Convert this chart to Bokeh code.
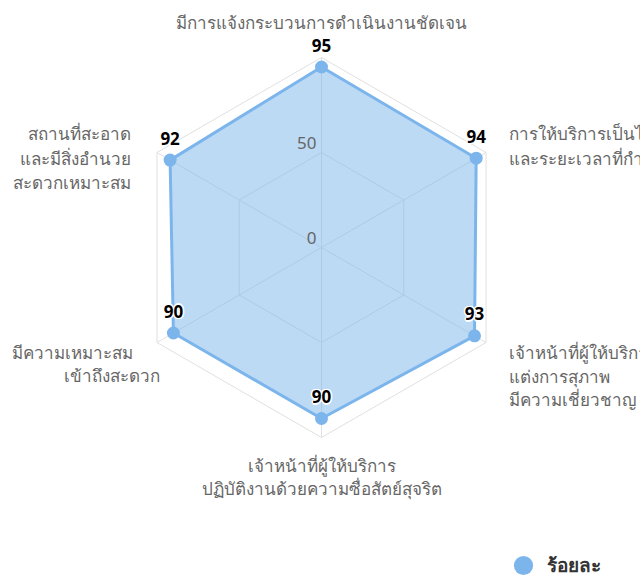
import numpy as np
from bokeh.plotting import figure
from bokeh.models import ColumnDataSource, Legend, LegendItem, Range1d
from bokeh.core.properties import value
from bokeh.embed import file_html
from bokeh.resources import INLINE

# ---------------- data ----------------
categories = [
    ["มีการแจ้งกระบวนการดำเนินงานชัดเจน"],
    ["การให้บริการเป็นไปตามขั้นตอน", "และระยะเวลาที่กำหนด"],
    ["เจ้าหน้าที่ผู้ให้บริการ", "แต่งการสุภาพ", "มีความเชี่ยวชาญ"],
    ["เจ้าหน้าที่ผู้ให้บริการ", "ปฏิบัติงานด้วยความซื่อสัตย์สุจริต"],
    ["มีความเหมาะสม", "เข้าถึงสะดวก"],
    ["สถานที่สะอาด", "และมีสิ่งอำนวย", "สะดวกเหมาะสม"],
]
values = [95, 94, 93, 90, 90, 92]
ring_values = [0, 50, 100]
tick_labels = ["0", "50"]
series_name = "ร้อยละ"

# ---------------- layout / style ----------------
W, H = 640, 577
CX, CY = 321, 247
R_PX = 190
k = R_PX / 100.0
FONT = "Noto Sans"
BLUE = "#7cb5ec"
GRAY = "#666666"

n = len(values)
theta = np.deg2rad(90 - 360.0 / n * np.arange(n))

p = figure(width=W, height=H, output_backend="svg", toolbar_location=None,
           x_range=Range1d(-CX / k, (W - CX) / k),
           y_range=Range1d(-(H - CY) / k, CY / k),
           min_border=0, outline_line_color=None)
p.axis.visible = False
p.grid.visible = False
p.background_fill_color = "white"
p.border_fill_color = "white"

# grid rings
rings_x, rings_y = [], []
for rv in ring_values[1:]:
    rings_x.append(list(rv * np.cos(theta)) + [rv * np.cos(theta[0])])
    rings_y.append(list(rv * np.sin(theta)) + [rv * np.sin(theta[0])])
p.multi_line(rings_x, rings_y, line_color="#e0e0e0", line_width=1)
# spokes
rmax = ring_values[-1]
sp_x = [[0, rmax * np.cos(t)] for t in theta]
sp_y = [[0, rmax * np.sin(t)] for t in theta]
p.multi_line(sp_x, sp_y, line_color="#e0e0e0", line_width=1)

# series
vx = np.array(values) * np.cos(theta)
vy = np.array(values) * np.sin(theta)
p.patch(list(vx), list(vy), fill_color=BLUE, fill_alpha=0.5, line_color=None)
p.line(list(vx) + [vx[0]], list(vy) + [vy[0]], line_color=BLUE, line_width=3)
pts = p.scatter(vx, vy, size=13, fill_color=BLUE, line_color=None)

# tick labels
tsrc = ColumnDataSource(dict(x=[0] * len(tick_labels),
                             y=ring_values[:len(tick_labels)], t=tick_labels))
p.text("x", "y", text="t", source=tsrc, text_align="right", text_baseline="middle",
       x_offset=-5, y_offset=-10, text_color=GRAY, text_font=value(FONT),
       text_font_size="17px")

# data labels with white halo
dsrc = ColumnDataSource(dict(x=vx, y=vy, t=[str(v) for v in values]))
for dx, dy in [(-1.5, 0), (1.5, 0), (0, -1.5), (0, 1.5), (-1, -1), (1, 1), (-1, 1), (1, -1)]:
    p.text("x", "y", text="t", source=dsrc, text_align="center", text_baseline="middle",
           x_offset=dx, y_offset=-22 + dy, text_color="white", text_font=value(FONT),
           text_font_size="17px", text_font_style="bold")
p.text("x", "y", text="t", source=dsrc, text_align="center", text_baseline="middle",
       x_offset=0, y_offset=-22, text_color="black", text_font=value(FONT),
       text_font_size="17px", text_font_style="bold")

# category labels: (align, [x offsets per line], first line y offset, line step)
label_style = [
    ("center", [0], -35, 24),
    ("left", [22.5, 22.5], -19, 24.5),
    ("left", [22.5, 22.5, 22.5], 10, 23.5),
    ("center", [0, 0], 28, 23),
    ("right", [-23.5, 3.5], 10, 23),
    ("right", [-25.5, -25.5, -25.5], -19, 24.5),
]
for i, lines in enumerate(categories):
    align, xoffs, y0, step = label_style[i]
    bx = rmax * np.cos(theta[i])
    by = rmax * np.sin(theta[i])
    for j, line in enumerate(lines):
        p.text([bx], [by], text=[line], text_align=align, text_baseline="middle",
               x_offset=xoffs[j], y_offset=y0 + j * step, text_color=GRAY,
               text_font=value(FONT), text_font_size="17px")

# legend (marker glyph drawn at 0.4 x glyph box => ~19px circle)
legend = Legend(items=[LegendItem(label=series_name, renderers=[pts])],
                location=(499, -12), glyph_width=48, glyph_height=48,
                label_standoff=0, padding=0, margin=0, spacing=0,
                label_text_font=FONT, label_text_font_size="19px",
                label_text_font_style="bold", label_text_color="#333333",
                background_fill_alpha=0, border_line_color=None)
p.add_layout(legend)

open("out.html", "w").write(file_html(p, INLINE))
